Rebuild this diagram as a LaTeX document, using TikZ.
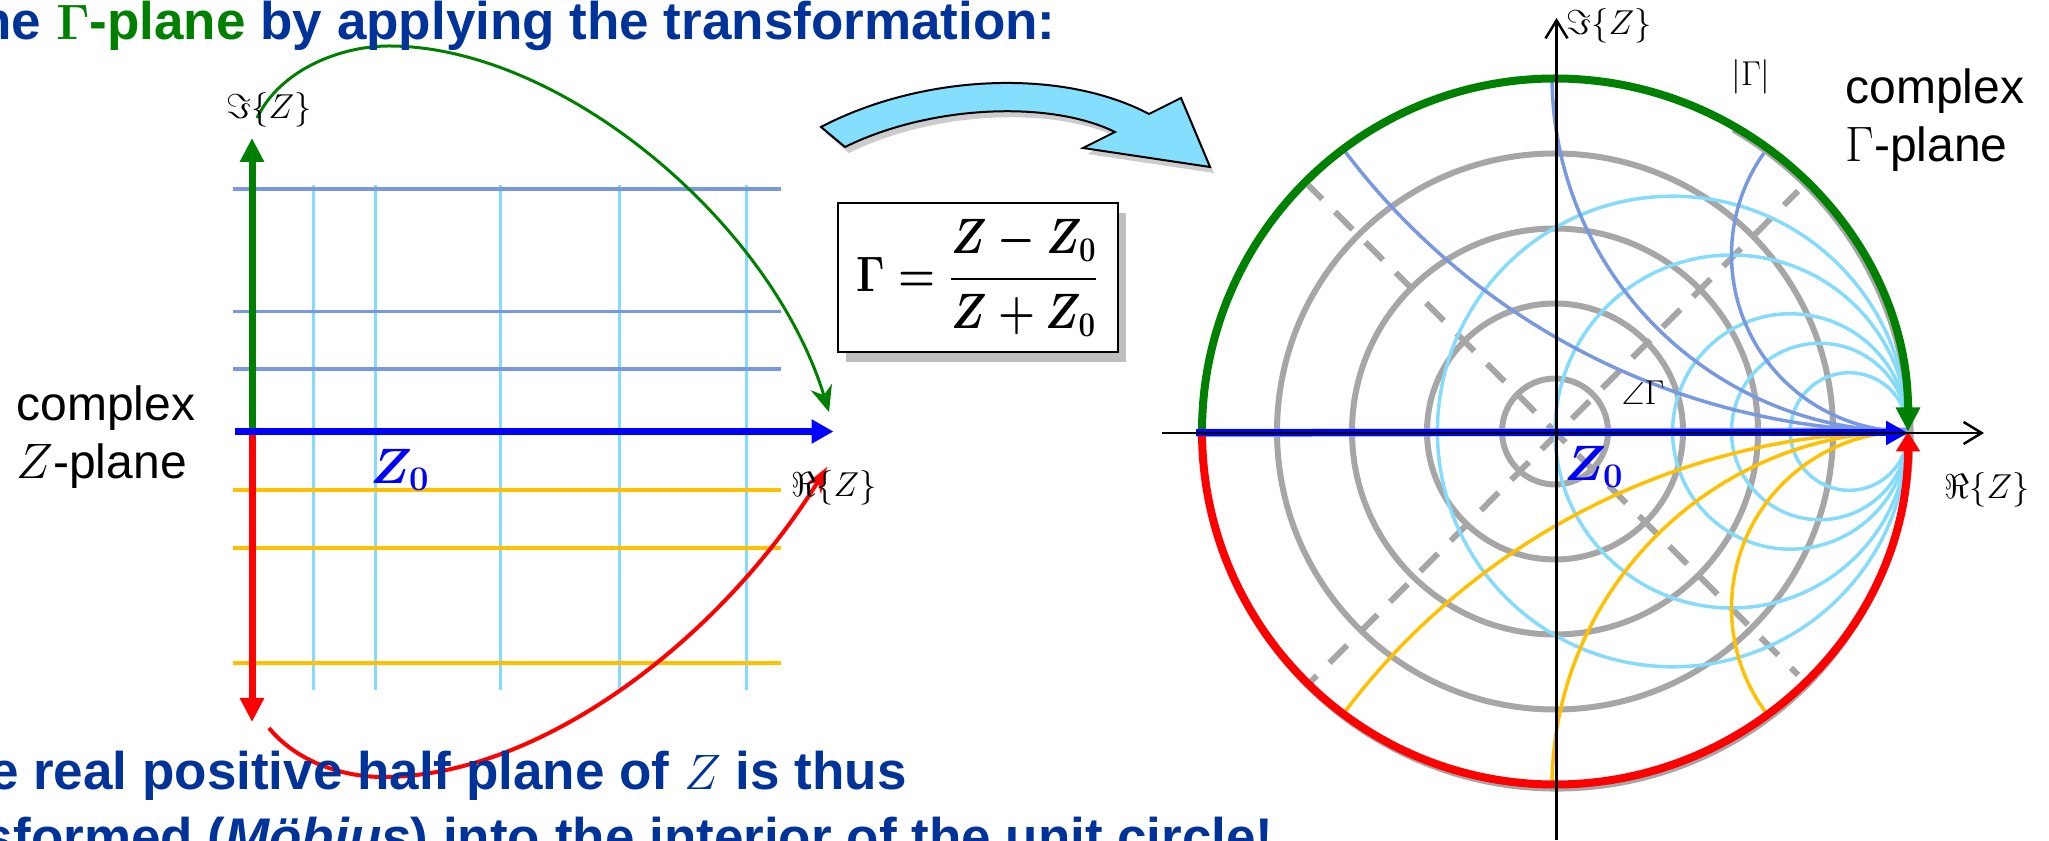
\documentclass[tikz,border=0pt]{standalone}
\usepackage[no-math]{fontspec}
\usepackage{amsfonts}
\usepackage{amsmath}
\usepackage{amssymb}
\usepackage{xcolor}
\usepackage{tikz}
\usetikzlibrary{arrows.meta,positioning,shadows}
\setmainfont{Liberation Sans}
\definecolor{titleblue}{HTML}{003399}
\definecolor{plainblue}{HTML}{0000FF}
\definecolor{greenarc}{HTML}{008000}
\definecolor{rline}{HTML}{84DCFA}
\definecolor{xline}{HTML}{7898E0}
\definecolor{yline}{HTML}{FFC000}
\definecolor{gline}{HTML}{A6A6A6}
\definecolor{bigarrow}{HTML}{84DFFF}
\newcommand{\bigfont}{\fontsize{24}{29}\selectfont}
\newcommand{\headfont}{\fontsize{26.5}{32}\selectfont}
\newcommand{\labfont}{\fontsize{16}{19}\selectfont}

\begin{document}
\begin{tikzpicture}[
  x=0.5pt,y=0.5pt,
  title/.style={font=\headfont\bfseries,text=titleblue,inner sep=0pt,anchor=base east},
  plane/.style={font=\bigfont,align=left,inner sep=0pt,anchor=west},
  axlabel/.style={font=\labfont,inner sep=0pt},
  zlabel/.style={font=\bigfont\boldmath,text=plainblue,inner sep=0pt},
  rgrid/.style={draw=rline,line width=1.5pt},
  xgrid/.style={draw=xline,line width=1.75pt},
  ygrid/.style={draw=yline,line width=1.75pt},
  rarc/.style={draw=rline,line width=1.75pt},
  xarc/.style={draw=xline,line width=1.75pt},
  yarc/.style={draw=yline,line width=1.75pt},
  gcircle/.style={draw=gline,line width=3pt},
  gdash/.style={draw=gline,line width=3pt,dash pattern=on 12.5pt off 9pt,dash phase=2.5pt},
  greenax/.style={draw=greenarc,line width=3.5pt,-{Triangle[length=12pt,width=11.5pt]}},
  redax/.style={draw=red,line width=3.5pt,-{Triangle[length=12pt,width=11.5pt]}},
  ringgreen/.style={draw=greenarc,line width=4pt,-{Triangle[length=12pt,width=11.5pt]}},
  ringred/.style={draw=red,line width=4pt,-{Triangle[length=10pt,width=11.5pt]}},
  blueax/.style={draw=plainblue,line width=3.5pt,-{Triangle[length=11pt,width=11.5pt]}},
  blackax/.style={draw=black,line width=1.25pt,-{Straight Barb[length=9pt,width=11pt]}}
]
\useasboundingbox (0,0) rectangle (2049,840);
\clip (0,0) rectangle (2049,840);

% left plane
\foreach \gx in {313,375.5,500,619,746}
  \draw[rgrid] (\gx,150) -- (\gx,655);
\foreach \gy in {651,528.3,471}
  \draw[xgrid] (233,\gy) -- (781,\gy);
\foreach \gy in {350,292,177}
  \draw[ygrid] (233,\gy) -- (781,\gy);

\coordinate (zorigin) at (252,408.5);
\coordinate (zup) at (252,702);
\coordinate (zdown) at (252,118);
\coordinate (zleft) at (235,408.5);
\coordinate (zright) at (833.5,408.5);
\draw[greenax] (zorigin) -- (zup);
\draw[redax] (zorigin) -- (zdown);
\draw[blueax] (zleft) -- (zright);

% mapping of the two half axes
\coordinate (gstart) at (257,722);
\coordinate (gtop) at (389,794);
\coordinate (gend) at (829,428);
\coordinate (rstart) at (269,112);
\coordinate (rbot) at (383,63);
\coordinate (rend) at (827,373);
\draw[greenarc,line width=1.5pt,-{Stealth[length=13pt,width=11pt]}] (gstart) .. controls (280,770) and (340,794) .. (gtop)
  .. controls (560,794) and (770,620) .. (gend);
\draw[red,line width=2pt,-{Stealth[length=13pt,width=9pt]}] (rstart) .. controls (295,80) and (340,63) .. (rbot)
  .. controls (540,63) and (720,200) .. (rend);

\node[axlabel] (imz) at (269,730) {$\Im\{Z\}$};
\node[axlabel] (rez) at (834,352) {$\Re\{Z\}$};
\node[zlabel] (zzero) at (400,370) {$Z_0$};
\node[plane] (zplane) at (16,403) {complex\\$Z$-plane};

% curved arrow and formula
\draw[draw=black,line width=1pt,fill=bigarrow,drop shadow={shadow xshift=2pt,shadow yshift=-3pt,opacity=.4}]
  (821,713) .. controls (920,765) and (1060,773) .. (1149,726) -- (1181,742) -- (1210,673) -- (1083,692) -- (1115,708)
  .. controls (1050,740) and (930,735) .. (845,693) -- cycle;
\node[draw,line width=1pt,fill=white,minimum width=140pt,minimum height=74.5pt,inner sep=0pt,
  font=\fontsize{23.5}{28}\selectfont\boldmath,drop shadow={shadow xshift=4pt,shadow yshift=-5pt,opacity=.5}] (formula) at (977.5,562)
  {\scalebox{.85}[1]{$\Gamma=\dfrac{Z-Z_0}{Z+Z_0}$}};

% smith chart
\coordinate (gc) at (1555,408.5);
\coordinate (tip) at (1908,408.5);
\foreach \gr in {53,128,203,278}
  \draw[gcircle] (gc) circle[radius=\gr];
\draw[gdash] (1308,655) -- (1798,165);
\draw[gdash] (1798,649) -- (1310.5,158);
\foreach \rr in {235.3,176.5,117.7,88.25,58.8}
  \draw[rarc] (tip) ++(-\rr,0) circle[radius=\rr];
\foreach \sa/\rr in {143.13/176.5,180/356,216.87/706}{
  \draw[xarc] (tip) ++(0,\rr) ++(\sa:\rr) arc[start angle=\sa,end angle=270,radius=\rr];
  \draw[yarc] (tip) ++(0,-\rr) ++(-\sa:\rr) arc[start angle=-\sa,end angle=-270,radius=\rr];
}
\draw[gline,line width=3.5pt] (1557,405) ++(60:353) arc[start angle=60,end angle=-150,radius=353];
\draw[xline,line width=4pt] (1197,407) -- (tip);
\coordinate (ringleft) at (1202,408.5);
\draw[ringgreen] (ringleft) arc[start angle=180,end angle=0,radius=353];
\draw[ringred] (ringleft) arc[start angle=180,end angle=360,radius=353];

\coordinate (gleft) at (1196,407);
\coordinate (gright) at (1908,407);
\draw[blueax] (gleft) -- (gright);
\coordinate (axleft) at (1162,407);
\coordinate (axright) at (1984,407);
\coordinate (axbot) at (1556.5,0);
\coordinate (axtop) at (1556.5,822);
\draw[blackax] (axleft) -- (axright);
\draw[blackax] (axbot) -- (axtop);

\node[axlabel] (imgamma) at (1609,814) {$\Im\{Z\}$};
\node[axlabel] (regamma) at (1987,350) {$\Re\{Z\}$};
\node[axlabel] (abs) at (1751,763) {$|\Gamma|$};
\node[axlabel] (ang) at (1643,447) {$\angle\Gamma$};
\node[zlabel] (zzeroc) at (1594,373) {$Z_0$};
\node[plane] (gplane) at (1845,720) {complex\\$\Gamma$-plane};

% cut-off sentences
\node[title] (top) at (1056,800) {the \textcolor{greenarc}{$\mathbf{\Gamma}$-plane} by applying the transformation:};
\node[title] (lineone) at (907,50) {The real positive half plane of $Z$ is thus};
\node[title] (linetwo) at (1274,-15) {transformed (\textit{Möbius}) into the interior of the unit circle!};
\end{tikzpicture}
\end{document}
